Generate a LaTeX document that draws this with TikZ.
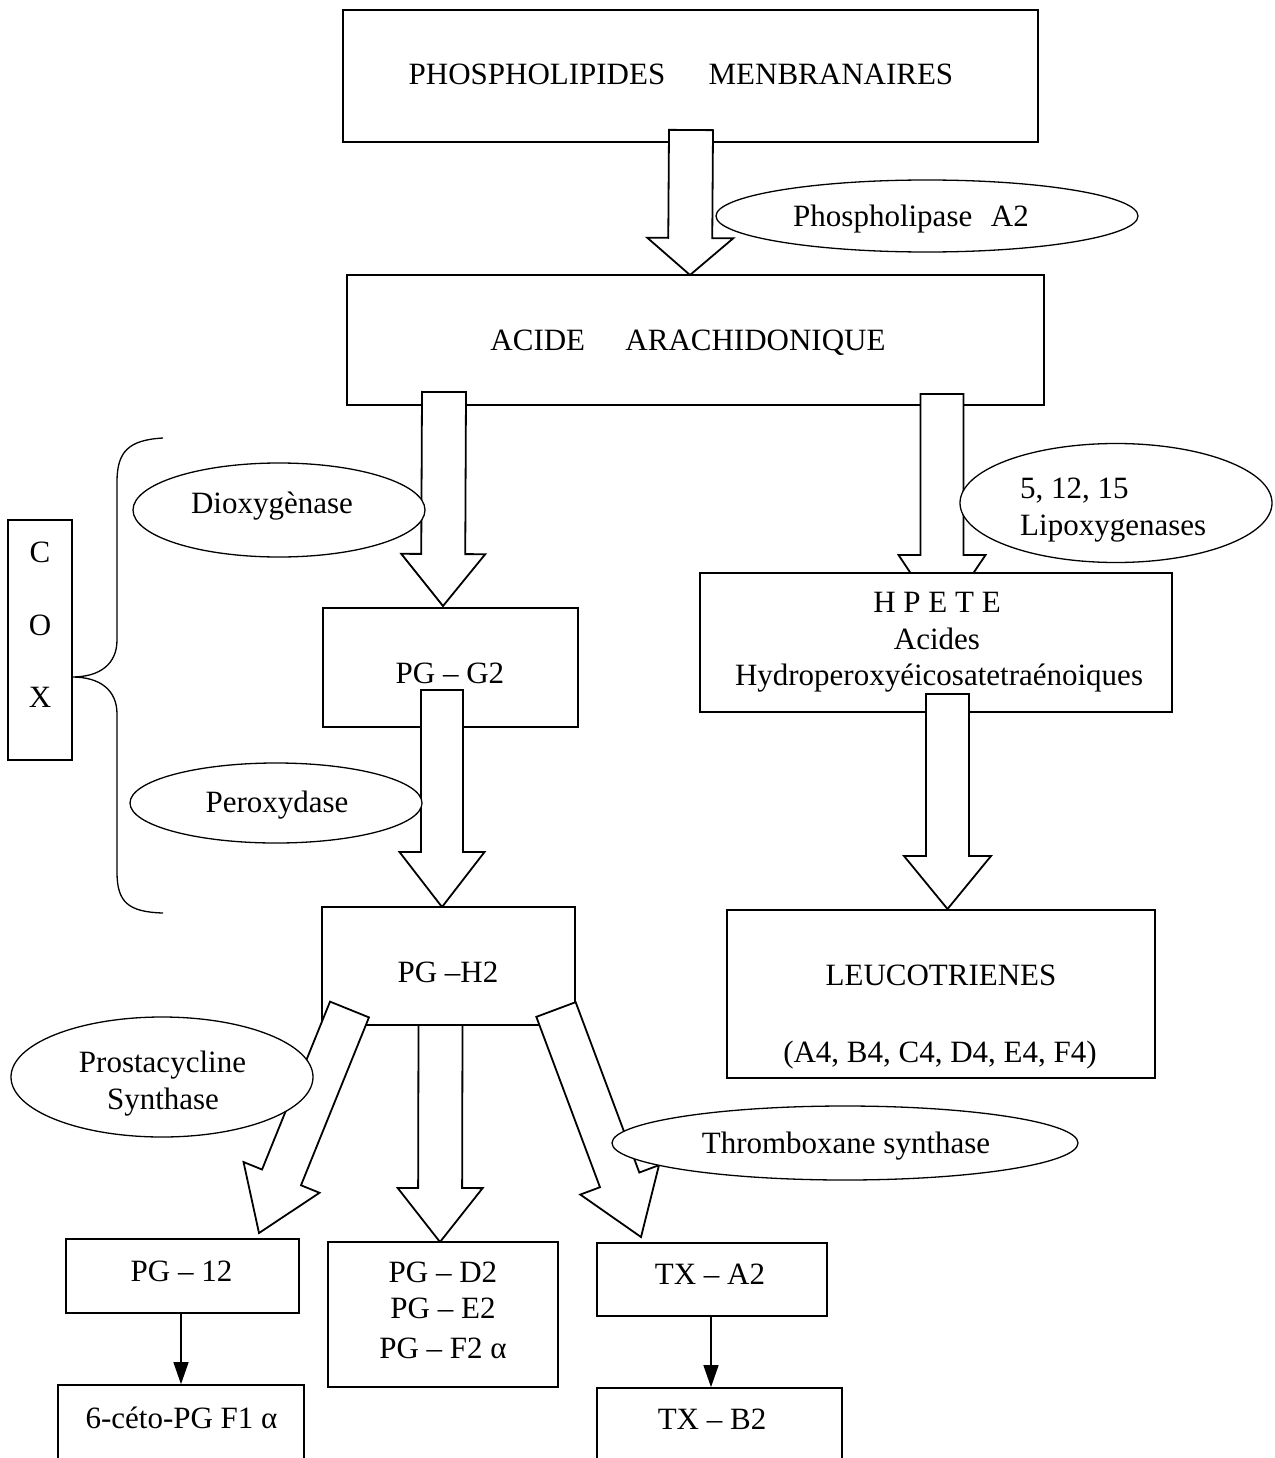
\documentclass[tikz,border=0pt]{standalone}
\usepackage{fontspec}
\setmainfont{Liberation Serif}
\usetikzlibrary{calc,shapes.geometric,arrows.meta}
\newcommand\FatArr[5]{%
  \coordinate (fa-h) at ($(#2)!#5pt!(#1)$);
  \draw[fatarr] ($(#1)!#3pt!90:(#2)$) -- ($(fa-h)!#3pt!90:(#2)$) -- ($(fa-h)!#4pt!90:(#2)$) -- (#2) -- ($(fa-h)!#4pt!-90:(#2)$) -- ($(fa-h)!#3pt!-90:(#2)$) -- ($(#1)!#3pt!-90:(#2)$) -- cycle;}
\begin{document}
\begin{tikzpicture}[x=1pt,y=-1pt,
  font=\fontsize{31}{37}\selectfont,
  box/.style={draw, line width=1.7pt, fill=white, inner sep=0pt, rectangle},
  enz/.style={draw, ellipse, line width=1.3pt, fill=white, inner sep=0pt},
  fatarr/.style={draw, line width=1.8pt, fill=white, line join=miter},
  lbl/.style={anchor=base, inner sep=0pt},
  lblw/.style={anchor=base west, inner sep=0pt},
  thinarr/.style={line width=1.3pt, -{Triangle[length=22pt,width=15pt]}},
  bracestyle/.style={line width=1.3pt}]
\useasboundingbox (0,0) rectangle (1274,1458);
\clip (0,0) rectangle (1274,1458);
\fill[white] (0,0) rectangle (1274,1458);

% top boxes
\node[box, minimum width=695pt, minimum height=132pt] (phos) at (690.5,76) {};
\node[box, minimum width=697pt, minimum height=130pt] (acide) at (695.5,340) {};

% fat arrows from the top boxes
\coordinate (s1) at (691,130); \coordinate (e1) at (690,275);
\FatArr{s1}{e1}{22}{43}{37}
\coordinate (s2) at (444,392); \coordinate (e2) at (443,606);
\FatArr{s2}{e2}{22}{42}{52}
\coordinate (s3) at (942,394); \coordinate (e3) at (942,620);
\FatArr{s3}{e3}{21.5}{43.5}{65}

% second level boxes
\node[box, minimum width=472pt, minimum height=139pt] (hpete) at (936,642.5) {};
\node[box, minimum width=255pt, minimum height=119pt] (pgg2) at (450.5,667.5) {};

\coordinate (s4) at (442,690); \coordinate (e4) at (442,907);
\FatArr{s4}{e4}{21}{42.5}{55}
\coordinate (s5) at (947.5,694); \coordinate (e5) at (947.5,909);
\FatArr{s5}{e5}{21.5}{43.5}{53}

% third level boxes
\node[box, minimum width=253pt, minimum height=118pt] (pgh2) at (448.5,966) {};
\node[box, minimum width=428pt, minimum height=168pt] (leuco) at (941,994) {};

\coordinate (s6) at (440.5,1025); \coordinate (e6) at (440,1242);
\FatArr{s6}{e6}{22}{42.5}{54}
\coordinate (s7) at (349.5,1009.5); \coordinate (e7) at (259,1233);
\FatArr{s7}{e7}{21}{41}{60}
\coordinate (s8) at (556,1009.5); \coordinate (e8) at (641,1237);
\FatArr{s8}{e8}{21}{42}{61}

% bottom boxes
\node[box, minimum width=233pt, minimum height=74pt] (pg12) at (182.5,1276) {};
\node[box, minimum width=246pt, minimum height=74pt] (ceto) at (181,1422) {};
\node[box, minimum width=230pt, minimum height=145pt] (pgd2) at (443,1314.5) {};
\node[box, minimum width=230pt, minimum height=73pt] (txa) at (712,1279.5) {};
\node[box, minimum width=245pt, minimum height=100pt] (txb) at (719.5,1438) {};

\draw[thinarr] (pg12.south -| 181,0) -- (ceto.north -| 181,0);
\draw[thinarr] (txa.south -| 711,0) -- (txb.north -| 711,0);

% COX box and brace
\node[box, minimum width=64pt, minimum height=240pt] (cox) at (40,640) {};
\coordinate (bracetip) at (72,677);
\draw[bracestyle] (163,438) .. controls (128,440) and (117,452) .. (117,482)
  -- (117,640) .. controls (117,664) and (100,677) .. (bracetip)
  .. controls (100,677) and (117,690) .. (117,714)
  -- (117,872) .. controls (117,902) and (128,912) .. (163,913);

% enzyme ellipses
\node[enz, minimum width=422pt, minimum height=72pt] (pla2) at (927,216) {};
\node[enz, minimum width=292pt, minimum height=94pt] (diox) at (279,510) {};
\node[enz, minimum width=292pt, minimum height=80pt] (perox) at (276,803) {};
\node[enz, minimum width=312pt, minimum height=119pt] (lipox) at (1116,503) {};
\node[enz, minimum width=302pt, minimum height=120pt] (prosta) at (162,1077) {};
\node[enz, minimum width=466pt, minimum height=74pt] (thromb) at (845,1143) {};

% texts
\node[lbl] (t-phos) at (681,85) {PHOSPHOLIPIDES\hspace{1.4em}MENBRANAIRES};
\node[lbl] (t-pla2) at (911,226) {Phospholipase\hspace{0.6em}A2};
\node[lbl] (t-acide) at (688,350) {ACIDE\hspace{1.3em}ARACHIDONIQUE};
\node[lbl] (t-diox) at (272,513) {Dioxygènase};
\node[lbl] (t-perox) at (277,812) {Peroxydase};
\node[lbl] (t-c) at (40,562) {C};
\node[lbl] (t-o) at (40,635) {O};
\node[lbl] (t-x) at (40,707) {X};
\node[lbl] (t-pgg2) at (450,683) {PG – G2};
\node[lbl] (t-hpete) at (937,612) {H P E T E};
\node[lbl] (t-acides) at (937,649) {Acides};
\node[lbl] (t-hydro) at (939,685) {Hydroperoxyéicosatetraénoiques};
\node[lblw] (t-lip1) at (1020,498) {5, 12, 15};
\node[lblw] (t-lip2) at (1020,535) {Lipoxygenases};
\node[lbl] (t-pgh2) at (448,982) {PG –H2};
\node[lbl] (t-leuco) at (941,985) {LEUCOTRIENES};
\node[lbl] (t-leuco2) at (940,1062) {(A4, B4, C4, D4, E4, F4)};
\node[lbl] (t-pros1) at (162.5,1072) {Prostacycline};
\node[lbl] (t-pros2) at (163,1109) {Synthase};
\node[lbl] (t-thromb) at (846,1153) {Thromboxane synthase};
\node[lbl] (t-pg12) at (181.5,1281) {PG – 12};
\node[lbl] (t-ceto) at (181.5,1428) {6-céto-PG F1 α};
\node[lbl] (t-pgd2) at (443,1282) {PG – D2};
\node[lbl] (t-pge2) at (443,1318) {PG – E2};
\node[lbl] (t-pgf2) at (443,1358) {PG – F2 α};
\node[lbl] (t-txa) at (710,1284) {TX – A2};
\node[lbl] (t-txb) at (712,1429) {TX – B2};
\end{tikzpicture}
\end{document}
